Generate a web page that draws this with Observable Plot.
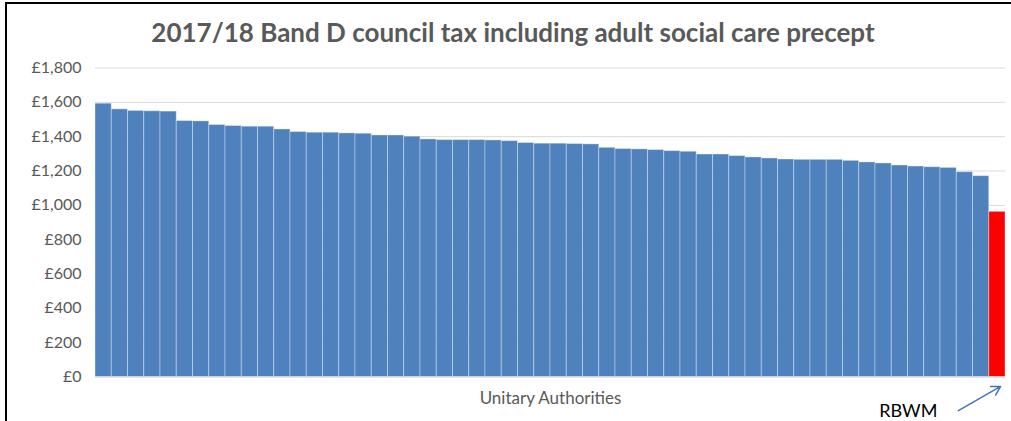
<!DOCTYPE html>
<html>
<head>
<meta charset="utf-8">
<script src="https://cdn.jsdelivr.net/npm/d3@7"></script>
<script src="https://cdn.jsdelivr.net/npm/@observablehq/plot@0.6"></script>
<style>
  html, body { margin: 0; padding: 0; background: #fff; }
  #wrap { position: relative; width: 1011px; height: 421px; overflow: hidden; font-family: Lato, "Open Sans", sans-serif; }
  #frame { position: absolute; left: 5px; top: 2px; width: 1020px; height: 430px; border-left: 2px solid #000; border-top: 2px solid #000; box-sizing: border-box; pointer-events: none; }
  #title { position: absolute; left: 0; width: 1026px; top: 16px; text-align: center; font-size: 26px; font-weight: bold; color: #595959; white-space: nowrap; }
  #chart { position: absolute; left: 0; top: 0; }
</style>
</head>
<body>
<div id="wrap">
  <div id="chart"></div>
  <div id="title"></div>
  <div id="frame"></div>
</div>
<script>
const title = "2017/18 Band D council tax including adult social care precept";
const xLabel = "Unitary Authorities";
const highlightLabel = "RBWM";

// Band D council tax (£) for each unitary authority, sorted descending; last is RBWM
const values = [
  1592, 1559, 1550, 1548, 1546, 1491, 1489, 1468, 1462, 1458,
  1458, 1442, 1427, 1423, 1423, 1419, 1417, 1407, 1407, 1400,
  1384, 1380, 1380, 1380, 1378, 1374, 1363, 1359, 1359, 1357,
  1355, 1335, 1328, 1326, 1322, 1316, 1312, 1296, 1296, 1287,
  1279, 1273, 1267, 1265, 1265, 1265, 1259, 1250, 1244, 1232,
  1226, 1222, 1218, 1193, 1170, 962
];
const highlightIndex = values.length - 1;
const yTicks = [0, 200, 400, 600, 800, 1000, 1200, 1400, 1600, 1800];

const data = values.map((v, i) => ({i, value: v, highlight: i === highlightIndex}));

document.getElementById("title").textContent = title;

const fmt = d3.format(",");
const n = values.length;

const chart = Plot.plot({
  width: 1011,
  height: 421,
  marginLeft: 95,
  marginRight: 6,
  marginTop: 67.5,
  marginBottom: 44.5,
  style: {fontFamily: "Lato, 'Open Sans', sans-serif", background: "transparent"},
  x: {domain: [0, n], axis: null},
  y: {domain: [0, 1800], axis: null},
  marks: [
    Plot.gridY(yTicks, {stroke: "#d9d9d9", strokeOpacity: 1, strokeWidth: 1}),
    Plot.axisY(yTicks, {
      tickSize: 0, tickPadding: 14, fontSize: 16, fill: "#595959",
      tickFormat: d => "£" + fmt(d), label: null
    }),
    Plot.rectY(data, {
      x1: d => d.i, x2: d => d.i + 1, y: "value",
      fill: d => d.highlight ? "#ff0000" : "#4f81bd",
      stroke: "#ffffff", strokeOpacity: 0.35, strokeWidth: 1
    }),
    Plot.ruleY([0], {stroke: "#d9d9d9", strokeWidth: 1}),
    Plot.text([xLabel], {frameAnchor: "bottom", dy: 27, fontSize: 17, fill: "#595959"}),
    Plot.text([highlightLabel], {
      x: [highlightIndex + 0.5], y: [0], dx: -89, dy: 34,
      fontSize: 18, fill: "#000", textAnchor: "middle"
    }),
    Plot.arrow([{x1: highlightIndex - 1.9, y1: -196, x2: highlightIndex + 0.7, y2: -55}], {
      x1: "x1", y1: "y1", x2: "x2", y2: "y2",
      stroke: "#4472c4", strokeWidth: 1.5, headLength: 10, clip: false
    })
  ]
});
document.getElementById("chart").appendChild(chart);
</script>
</body>
</html>
